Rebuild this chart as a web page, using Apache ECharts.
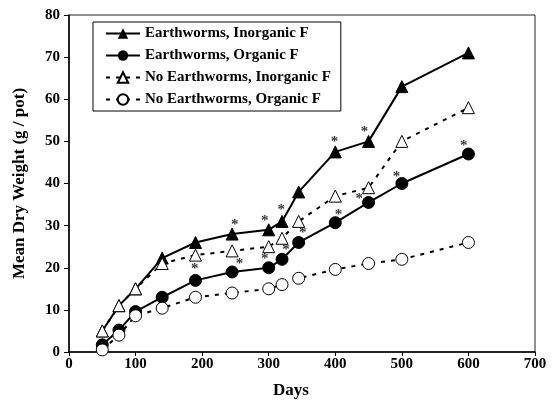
<!DOCTYPE html>
<html>
<head>
<meta charset="utf-8">
<script src="https://cdn.jsdelivr.net/npm/echarts@6/dist/echarts.min.js"></script>
<style>
  html, body { margin: 0; padding: 0; background: #fff; }
  #chart { width: 553px; height: 404px; }
</style>
</head>
<body>
<div id="chart"></div>
<script>
// 数据
var days = [50, 75, 100, 140, 190, 245, 300, 320, 345, 400, 450, 500, 600];
var ewInorganic = [5, 11, 15, 22.3, 26, 28, 29, 31, 38, 47.5, 50, 63, 71];
var ewOrganic = [1.7, 5.2, 9.6, 13, 17, 19, 20, 22, 26, 30.7, 35.5, 40, 47];
var noEwInorganic = [5, 11, 15, 21, 23, 24, 25, 27, 31, 37, 39, 50, 58];
var noEwOrganic = [0.5, 4, 8.6, 10.4, 13, 14, 15, 16, 17.5, 19.6, 21, 22, 26];
// 显著性标记 (*)
var starDays = [249, 294, 319, 399, 444, 189, 256, 294, 326, 351, 405, 436, 492, 593];
var starValues = [30.9, 31.7, 34.4, 50.5, 52.8, 20.5, 21.6, 22.7, 25, 29, 33.2, 36.9, 42.3, 49.5];

function pairs(xs, ys) {
    return xs.map(function (x, i) { return [x, ys[i]]; });
}

function getDryWeight(divId) {
    var myChart = echarts.init(document.getElementById(divId));
    var font = 'Liberation Serif';
    var option = {
        animation: false,
        backgroundColor: '#fff',
        grid: {
            left: 69,
            right: 18,
            top: 15,
            bottom: 51,
            show: true,
            borderColor: '#222',
            borderWidth: 1
        },
        legend: {
            orient: 'vertical',
            left: 93,
            top: 22,
            width: 248,
            padding: [4, 10, 4, 12],
            borderColor: '#000',
            borderWidth: 1,
            itemWidth: 34,
            itemHeight: 13,
            itemGap: 7,
            textStyle: {
                fontFamily: font,
                fontWeight: 'bold',
                fontSize: 15,
                color: '#000'
            },
            data: ['Earthworms, Inorganic F', 'Earthworms, Organic F',
                   'No Earthworms, Inorganic F', 'No Earthworms, Organic F']
        },
        xAxis: {
            type: 'value',
            min: 0,
            max: 700,
            interval: 100,
            name: 'Days',
            nameLocation: 'middle',
            nameGap: 30,
            nameTextStyle: {
                fontFamily: font,
                fontWeight: 'bold',
                fontSize: 17,
                color: '#000',
                padding: [0, 22, 0, 0]
            },
            axisLine: { lineStyle: { color: '#000', width: 1.5 } },
            axisTick: { show: true, length: 4, lineStyle: { color: '#000' } },
            axisLabel: {
                fontFamily: font,
                fontWeight: 'bold',
                fontSize: 15,
                color: '#000',
                margin: 5
            },
            splitLine: { show: false }
        },
        yAxis: {
            type: 'value',
            min: 0,
            max: 80,
            interval: 10,
            name: 'Mean Dry Weight (g / pot)',
            nameLocation: 'middle',
            nameGap: 41,
            nameTextStyle: {
                fontFamily: font,
                fontWeight: 'bold',
                fontSize: 17,
                color: '#000'
            },
            axisLine: { lineStyle: { color: '#000', width: 1.5 } },
            axisTick: { show: true, length: 5, lineStyle: { color: '#000' } },
            axisLabel: {
                fontFamily: font,
                fontWeight: 'bold',
                fontSize: 15,
                color: '#000',
                margin: 9
            },
            splitLine: { show: false }
        },
        series: [
            {
                name: 'Earthworms, Inorganic F',
                type: 'line',
                data: pairs(days, ewInorganic),
                symbol: 'triangle',
                symbolSize: 12,
                lineStyle: { color: '#000', width: 2 },
                itemStyle: { color: '#000', borderColor: '#000' }
            },
            {
                name: 'Earthworms, Organic F',
                type: 'line',
                data: pairs(days, ewOrganic),
                symbol: 'circle',
                symbolSize: 12,
                lineStyle: { color: '#000', width: 2 },
                itemStyle: { color: '#000', borderColor: '#000' }
            },
            {
                name: 'No Earthworms, Inorganic F',
                type: 'line',
                data: pairs(days, noEwInorganic),
                symbol: 'triangle',
                symbolSize: 12,
                lineStyle: { color: '#000', width: 2, type: [4, 6] },
                itemStyle: { color: '#fff', borderColor: '#000', borderWidth: 1 }
            },
            {
                name: 'No Earthworms, Organic F',
                type: 'line',
                data: pairs(days, noEwOrganic),
                symbol: 'circle',
                symbolSize: 12,
                lineStyle: { color: '#000', width: 2, type: [4, 6] },
                itemStyle: { color: '#fff', borderColor: '#000', borderWidth: 1 }
            },
            {
                name: 'stars',
                type: 'scatter',
                data: pairs(starDays, starValues),
                symbolSize: 0,
                silent: true,
                label: {
                    show: true,
                    position: 'inside',
                    formatter: '*',
                    fontFamily: font,
                    fontWeight: 'bold',
                    fontSize: 15,
                    color: '#000',
                    offset: [0, 3]
                },
                z: 5
            }
        ]
    };
    myChart.clear();
    myChart.setOption(option);
    return myChart;
}

getDryWeight('chart');
</script>
</body>
</html>
